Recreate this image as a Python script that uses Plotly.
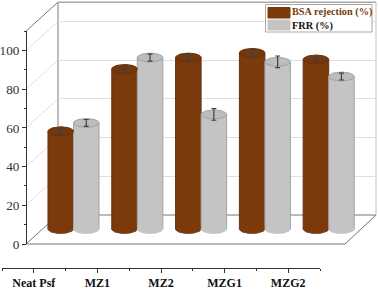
import numpy as np
import plotly.graph_objects as go

categories = ["Neat Psf", "MZ1", "MZ2", "MZG1", "MZG2"]
bsa_rejection = [50.5, 82.7, 88.6, 91.0, 87.6]
bsa_error = [1.0, 1.0, 2.0, 2.0, 1.0]
frr = [54.8, 88.6, 59.2, 86.4, 78.8]
frr_error = [1.8, 1.8, 3.0, 3.0, 1.8]
series_names = ["BSA rejection (%)", "FRR (%)"]

W, H = 378, 289
BROWN, BROWN_EDGE = "#7a3a0c", "#6a300a"
GREY, GREY_EDGE = "#c4c4c4", "#a2a2a2"
SERIF = "Liberation Serif"
PX_PER_UNIT = 1.935
Y0_FRONT, Y0_BAR, Y0_BACK = 244.0, 229.0, 215.0
X_FRONT, X_BACK = 26.0, 58.0
BAR_HALF, CAP_RY = 0.2, 2.3
px = lambda x: x / W
py = lambda y: 1 - y / H


def y_domain(y0, lo, hi):
    return [py(y0 - lo * PX_PER_UNIT), py(y0 - hi * PX_PER_UNIT)]


fig = go.Figure()
# wall and front axes need a trace to exist
fig.add_trace(go.Scatter(x=[None], y=[None], xaxis="x", yaxis="y", showlegend=False, hoverinfo="skip"))
fig.add_trace(go.Scatter(x=[None], y=[None], xaxis="x3", yaxis="y3", showlegend=False, hoverinfo="skip"))

positions = list(range(len(categories)))
series = [
    (bsa_rejection, bsa_error, BROWN, BROWN_EDGE, "#74380f", -BAR_HALF, series_names[0]),
    (frr, frr_error, GREY, GREY_EDGE, "#bdbdbd", BAR_HALF, series_names[1]),
]
t = np.linspace(0, 2 * np.pi, 61)
for vals, errs, col, edge, capcol, off, name in series:
    fig.add_trace(go.Bar(
        x=[p + off for p in positions], y=vals, width=2 * BAR_HALF, xaxis="x2", yaxis="y2",
        marker=dict(color=col, line=dict(color=edge, width=1)), name=name,
    ))
for vals, errs, col, edge, capcol, off, name in series:
    for p, v in zip(positions, vals):
        for level, lc in ((0, col), (v, edge)):
            fig.add_trace(go.Scatter(
                x=p + off + BAR_HALF * np.cos(t), y=level + CAP_RY * np.sin(t),
                xaxis="x2", yaxis="y2", mode="lines", fill="toself",
                fillcolor=capcol if level else col, line=dict(color=lc, width=1),
                hoverinfo="skip",
            ))
    fig.add_trace(go.Scatter(
        x=[p + off for p in positions], y=vals, xaxis="x2", yaxis="y2", mode="markers",
        marker=dict(size=1, opacity=0),
        error_y=dict(type="data", array=errs, color="#404040", thickness=1.2, width=2.5),
    ))

line_dark = dict(color="#777777", width=1)
line_wall = dict(color="#a8a8a8", width=1.5)
line_grid = dict(color="#e0e0e0", width=1)
shapes = []


def seg(x0, y0, x1, y1, line):
    shapes.append(dict(type="line", xref="paper", yref="paper", x0=px(x0), y0=py(y0),
                       x1=px(x1), y1=py(y1), line=line, layer="below"))


dx, dy = X_BACK - X_FRONT, Y0_FRONT - Y0_BACK
for val in [20, 40, 60, 80, 100]:
    y = Y0_FRONT - val * PX_PER_UNIT
    seg(X_FRONT, y, X_BACK, y - dy, line_grid)
top = Y0_FRONT - 110 * PX_PER_UNIT
seg(X_FRONT, top, X_BACK, top - dy, line_dark)
seg(X_FRONT, Y0_FRONT, X_BACK, Y0_BACK, line_dark)
seg(X_FRONT, Y0_FRONT, 345, Y0_FRONT, line_dark)
seg(345, Y0_FRONT, 376, Y0_BACK, line_dark)
seg(X_BACK, Y0_BACK, 376, Y0_BACK, line_dark)
seg(X_BACK, Y0_BACK, X_BACK, top - dy, line_wall)
seg(X_BACK, top - dy, 376, top - dy, line_wall)
seg(376, Y0_BACK, 376, top - dy, dict(color="#c0c0c0", width=1))

# legend frame and swatches
for x0, y0, x1, y1, fc, lc in [
    (265.5, 4.5, 372, 32, "white", "#a8a8a8"),
    (268, 7.5, 290, 18, BROWN, BROWN),
    (268, 20, 290, 30, GREY, GREY),
]:
    shapes.append(dict(type="rect", xref="paper", yref="paper", x0=px(x0), x1=px(x1),
                       y0=py(y0), y1=py(y1), fillcolor=fc, line=dict(color=lc, width=1), layer="above"))

annotations = [
    dict(text="<b>%s</b>" % series_names[0], x=px(290), y=py(12.5), xref="paper", yref="paper",
         xanchor="left", yanchor="middle", showarrow=False,
         font=dict(family=SERIF, size=10.3, color=BROWN)),
    dict(text="<b>%s</b>" % series_names[1], x=px(290), y=py(25.5), xref="paper", yref="paper",
         xanchor="left", yanchor="middle", showarrow=False,
         font=dict(family=SERIF, size=10.3, color="#111111")),
]

fig.update_layout(
    width=W, height=H, autosize=False, margin=dict(l=0, r=0, t=0, b=0, autoexpand=False),
    paper_bgcolor="white", plot_bgcolor="rgba(0,0,0,0)", barmode="overlay",
    shapes=shapes, annotations=annotations, showlegend=False,
    # back wall with its gridlines
    xaxis=dict(domain=[px(X_BACK), px(376)], range=[0, 1], visible=False, anchor="y"),
    yaxis=dict(domain=y_domain(Y0_BACK, 0, 110), range=[0, 110], anchor="x", dtick=20,
               showgrid=True, gridcolor="#e0e0e0", gridwidth=1, griddash="solid",
               zeroline=False, showticklabels=False, ticks="", showline=False),
    # bars stand halfway through the depth
    xaxis2=dict(domain=[px(41.6), px(360.6)], range=[-0.5, 4.5], visible=False, anchor="y2"),
    yaxis2=dict(domain=y_domain(Y0_BAR, -10, 110), range=[-10, 110], visible=False, anchor="x2"),
    # labelled front axes
    xaxis3=dict(domain=[px(2), px(320)], range=[-0.5, 4.5], anchor="free", position=py(267.7),
                tickmode="array", tickvals=positions, ticktext=["<b>%s</b>" % c for c in categories],
                ticks="outside", ticklen=4.5, tickwidth=1, tickcolor="#333333", ticklabelstandoff=-1,
                minor=dict(tickmode="array", tickvals=[-0.5, 0.5, 1.5, 2.5, 3.5, 4.5],
                           ticks="outside", ticklen=2.5, tickcolor="#333333", tickwidth=1),
                showline=True, linecolor="#333333", linewidth=1, showgrid=False, zeroline=False,
                tickfont=dict(family=SERIF, size=12, color="#111111")),
    yaxis3=dict(domain=y_domain(Y0_FRONT, 0, 110), range=[0, 110], anchor="free", position=px(X_FRONT),
                ticks="outside", ticklen=4, tickwidth=1, tickcolor="#333333",
                tickmode="array", tickvals=[0, 20, 40, 60, 80, 100],
                minor=dict(tickmode="array", tickvals=[10, 30, 50, 70, 90, 110], ticks="outside",
                           ticklen=2.5, tickcolor="#333333", tickwidth=1),
                showline=True, linecolor="#333333", linewidth=1, showgrid=False, zeroline=False,
                tickfont=dict(family=SERIF, size=13.2, color="#333333")),
)
for tr in fig.data:
    tr.showlegend = False
fig.write_html("out.html", post_script="document.body.style.margin='0';document.body.style.overflow='hidden';",
               config={"displayModeBar": False})
